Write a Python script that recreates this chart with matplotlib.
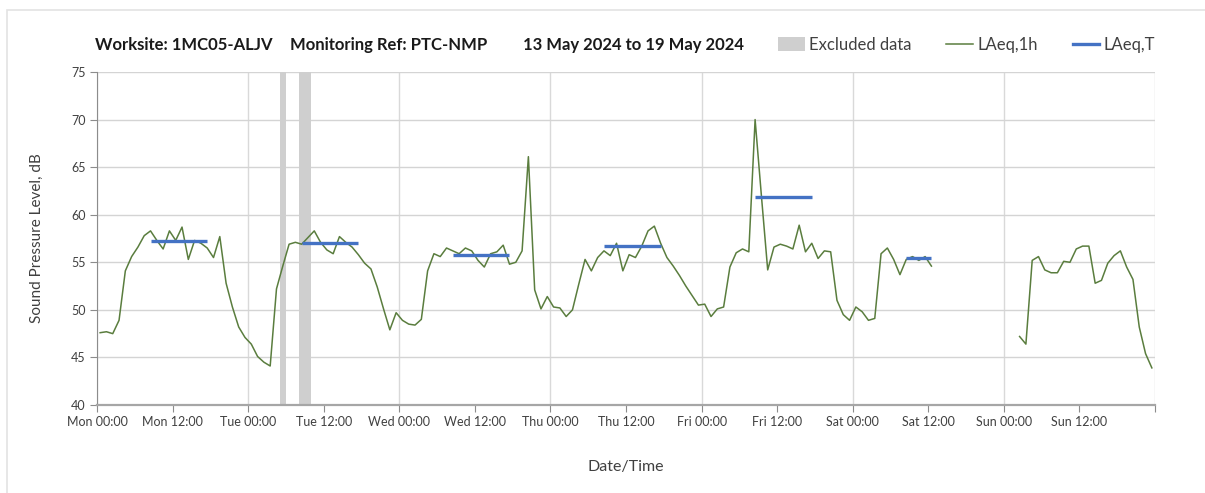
import numpy as np
import matplotlib
matplotlib.use("Agg")
import matplotlib.pyplot as plt
from matplotlib.lines import Line2D
from matplotlib.patches import Patch, Rectangle

plt.rcParams['font.family'] = ['Lato', 'DejaVu Sans']

# Hourly LAeq,1h values (dB), one list per day, points plotted at hh:30
nan = float('nan')
mon = [47.6, 47.7, 47.5, 48.9, 54.1, 55.6, 56.6, 57.8, 58.3, 57.3, 56.4, 58.3,
       57.3, 58.7, 55.3, 57.3, 57.0, 56.5, 55.5, 57.7, 52.8, 50.3, 48.2, 47.1]
tue = [46.4, 45.1, 44.5, 44.1, 52.2, 54.6, 56.9, 57.1, 56.9, 57.6, 58.3, 57.1,
       56.3, 55.9, 57.7, 57.1, 56.6, 55.8, 54.9, 54.3, 52.4, 50.1, 47.9, 49.7]
wed = [48.9, 48.5, 48.4, 49.0, 54.1, 55.9, 55.6, 56.5, 56.2, 55.9, 56.5, 56.2,
       55.2, 54.5, 55.9, 56.1, 56.8, 54.8, 55.0, 56.2, 66.1, 52.1, 50.1, 51.4]
thu = [50.3, 50.2, 49.3, 50.0, 52.7, 55.3, 54.1, 55.5, 56.2, 55.7, 57.0, 54.1,
       55.8, 55.5, 56.7, 58.3, 58.8, 57.0, 55.5, 54.6, 53.6, 52.5, 51.5, 50.5]
fri = [50.6, 49.3, 50.1, 50.3, 54.5, 56.0, 56.4, 56.1, 70.0, 62.0, 54.2, 56.6,
       56.9, 56.7, 56.4, 58.9, 56.1, 57.0, 55.4, 56.2, 56.1, 51.0, 49.5, 48.9]
sat = [50.3, 49.8, 48.9, 49.1, 55.9, 56.5, 55.3, 53.7, 55.3, 55.6, 55.2, 55.6,
       54.6, nan, nan, nan, nan, nan, nan, nan, nan, nan, nan, nan]
sun = [nan, nan, 47.2, 46.4, 55.2, 55.6, 54.2, 53.9, 53.9, 55.1, 55.0, 56.4,
       56.7, 56.7, 52.8, 53.1, 54.9, 55.7, 56.2, 54.5, 53.2, 48.2, 45.4, 43.9]

# LAeq,T daytime segments (hours from Mon 00:00)
laeqT_start_h = [8.5, 32.5, 56.5, 80.5, 104.5, 128.5]
laeqT_end_h = [17.5, 41.5, 65.5, 89.5, 113.5, 132.5]
laeqT_values = [57.2, 57.0, 55.8, 56.7, 61.9, 55.4]

# Excluded data periods (hours from Mon 00:00)
excluded_start_h = [29, 32]
excluded_end_h = [30, 34]

day_names = ['Mon', 'Tue', 'Wed', 'Thu', 'Fri', 'Sat', 'Sun']
tick_labels = [f'{d} {t}' for d in day_names for t in ('00:00', '12:00')] + ['']

title_parts = ['Worksite: 1MC05-ALJV', 'Monitoring Ref: PTC-NMP', '13 May 2024 to 19 May 2024']
legend_labels = ['Excluded data', 'LAeq,1h', 'LAeq,T']

values = np.array(mon + tue + wed + thu + fri + sat + sun)
hours = np.arange(len(values)) + 0.5

W, H = 1205, 493
fig = plt.figure(figsize=(W / 100, H / 100), dpi=100)
ax = fig.add_axes([97/W, 1 - 405/H, (1155-97)/W, (405-72)/H])

# outer light border
fig.patches.append(Rectangle((7/W, -0.05), 1.2, 1 - 10/H + 0.05,
                             transform=fig.transFigure, fill=False,
                             edgecolor='#e3e3e3', linewidth=1.2))

green = '#5a7d3e'
blue = '#4472c4'
band = '#cfcfcf'

for s, e in zip(excluded_start_h, excluded_end_h):
    ax.axvspan(s, e, color=band, zorder=1, linewidth=0)

ax.plot(hours, values, color=green, linewidth=1.1, zorder=3)
ax.hlines(laeqT_values, laeqT_start_h, laeqT_end_h, color=blue, linewidth=2.4, zorder=4)

ax.set_xlim(0, 168)
ax.set_ylim(40, 75)
ax.set_xticks(np.arange(0, 169, 12))
ax.set_xticklabels(tick_labels)
ax.set_yticks(np.arange(40, 76, 5))

ax.yaxis.grid(True, color='#d4d4d4', linewidth=1.0, zorder=0)
for d in range(len(day_names) + 1):
    ax.axvline(d * 24, color='#d9d9d9', linewidth=1.0, zorder=0)
ax.set_axisbelow(True)

for side in ('top', 'right'):
    ax.spines[side].set_visible(False)
ax.spines['left'].set_color('#8c8c8c')
ax.spines['bottom'].set_color('#a6a6a6')
ax.spines['bottom'].set_linewidth(1.6)
ax.tick_params(axis='both', direction='out', length=5, color='#8c8c8c',
               labelsize=9, labelcolor='#404040', pad=3)

ax.set_ylabel('Sound Pressure Level, dB', fontsize=11, color='#404040', labelpad=20)
ax.set_xlabel('Date/Time', fontsize=11.5, color='#404040', labelpad=23)

for xp, txt in zip([95, 290, 523], title_parts):
    fig.text(xp / W, 1 - 45/H, txt, fontsize=12, fontweight='bold',
             color='#1a1a1a', va='center', ha='left')

handles = [Patch(facecolor=band, edgecolor='none'),
           Line2D([], [], color=green, linewidth=1.1),
           Line2D([], [], color=blue, linewidth=2.4)]
fig.legend(handles, legend_labels, ncol=3,
           loc='center left', bbox_to_anchor=(778/W, 1 - 45/H),
           frameon=False, fontsize=12, labelcolor='#404040',
           handlelength=1.6, handletextpad=0.25, columnspacing=2.1,
           handleheight=0.9, borderpad=0, borderaxespad=0)

fig.savefig('out.png', dpi=100)
